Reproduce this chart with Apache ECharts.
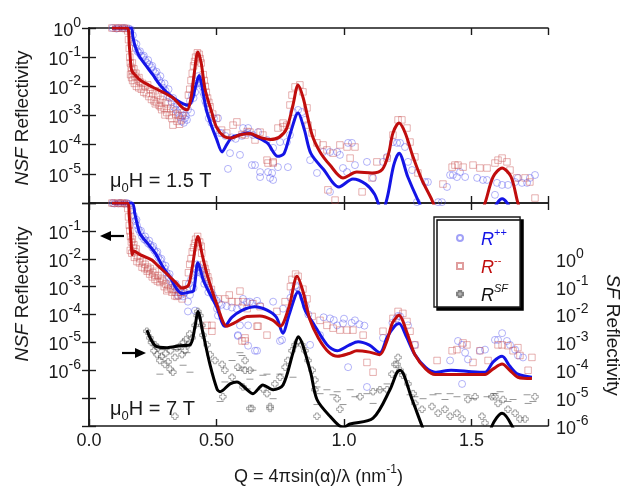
<!DOCTYPE html>
<html>
<head>
<meta charset="utf-8">
<script src="https://cdn.jsdelivr.net/npm/echarts@6.0.0/dist/echarts.min.js"></script>
<style>
  html, body { margin: 0; padding: 0; background: #fff; }
  #chart { width: 624px; height: 487px; }
</style>
</head>
<body>
<div id="chart"></div>
<script>
// Polarized neutron reflectivity, stored as [Q (nm^-1), log10 R]

// ---- 1.5 T panel ----
const rppLow = [
  [0.092,0],[0.1,0.01],[0.108,-0.02],[0.116,0],[0.124,0.01],[0.132,-0.01],[0.14,0],[0.148,0.01],[0.156,-0.02],[0.164,-0.05],
  [0.172,-0.25],[0.178,-0.5],[0.184,-0.7],[0.19,-0.8],[0.196,-0.85],[0.204,-0.95],[0.212,-1.0],[0.22,-1.1],[0.228,-1.2],[0.236,-1.25],
  [0.244,-1.35],[0.252,-1.45],[0.26,-1.55],[0.268,-1.7],[0.276,-1.8],[0.284,-1.9],[0.292,-2.05],[0.3,-2.15],[0.308,-2.3],[0.316,-2.4],
  [0.324,-2.55],[0.332,-2.7],[0.34,-2.8],[0.348,-2.9],[0.356,-3.05],[0.364,-3.2],[0.372,-3.25],[0.38,-3.0],[0.388,-2.8],[0.396,-2.5],
  [0.404,-2.3],[0.412,-2.0],[0.42,-1.8],[0.428,-1.65],[0.436,-1.75],[0.444,-2.0],[0.452,-2.3],[0.46,-2.6],[0.468,-2.8],[0.476,-3.0],
  [0.49,-3.1],[0.506,-3.09],[0.52,-3.6],[0.535,-3.7],[0.545,-4.83],[0.553,-4.29],[0.56,-3.75],[0.575,-3.8],[0.592,-4.35],[0.6,-3.7],
  [0.604,-3.43],[0.62,-3.6],[0.624,-3.43],[0.639,-4.7],[0.643,-3.67],[0.651,-4.7],[0.663,-3.57],[0.671,-4.94],[0.671,-5.11],[0.698,-3.84],
  [0.702,-4.94],[0.71,-5.14],[0.718,-4.97],[0.722,-4.11],[0.722,-5.21],[0.741,-4.77],[0.749,-3.91],[0.776,-3.91],[0.78,-4.77],[0.788,-3.67],
  [0.8,-2.88],[0.82,-2.81],[0.835,-2.88],[0.847,-3.15],[0.867,-4.53],[0.894,-4.97],[0.918,-4.25],[0.945,-4.25],[0.945,-5.62],[0.973,-4.25],
  [0.984,-4.35],[0.996,-4.8],[1.012,-4.94],[1.016,-3.94],[1.031,-3.94],[1.043,-4.7],[1.09,-4.59],[1.114,-5.14],[1.153,-4.59],[1.169,-4.42],
  [1.192,-3.91],[1.208,-3.94],[1.22,-3.94],[1.239,-4.08],[1.251,-4.59],[1.267,-4.87],[1.286,-5.97],[1.318,-5.28],[1.329,-5.28],[1.369,-5.97],
  [1.384,-5.97],[1.404,-5.45],[1.416,-5.04],[1.427,-5.04],[1.443,-5.11],[1.455,-4.94],[1.475,-5.11],[1.522,-5.14],[1.545,-5.21],[1.561,-5.21],
  [1.592,-5.72],[1.6,-5.31],[1.62,-5.38],[1.643,-5.38],[1.671,-5.28],[1.682,-5.14],[1.698,-5.31],[1.718,-5.31],[1.729,-5.14],[1.749,-5.04],
  [0.186,-0.55],[0.2,-0.8],[0.215,-0.95],[0.232,-1.1],[0.248,-1.3],[0.265,-1.5],[0.28,-1.65],[0.296,-1.9],[0.312,-2.1],[0.33,-2.4],
  [0.345,-2.6],[0.36,-2.8],[0.368,-3.0],[0.376,-3.1],[0.384,-3.15],[0.4,-2.9],[0.41,-2.4],[0.416,-2.2],[0.424,-1.9],[0.44,-1.9],
  [0.448,-2.2],[0.456,-2.5],[0.47,-3.1],[0.48,-3.25],[0.5,-3.5],[0.512,-3.6]
];
const rmmLow = [
  [0.09,0],[0.098,0.01],[0.106,-0.01],[0.114,0],[0.122,0.01],[0.13,-0.01],[0.138,0],[0.146,-0.02],[0.152,-0.1],
  [0.155,-0.4],[0.158,-0.7],[0.16,-1.0],[0.162,-1.2],[0.165,-1.35],[0.168,-1.45],[0.17,-1.2],[0.173,-1.55],[0.176,-1.4],[0.18,-1.65],
  [0.184,-1.55],[0.19,-1.75],[0.196,-1.7],[0.2,-1.85],[0.21,-1.9],[0.22,-2.0],[0.23,-1.95],[0.24,-2.1],[0.25,-2.25],[0.26,-2.15],
  [0.26,-2.6],[0.27,-2.3],[0.28,-2.45],[0.28,-2.7],[0.29,-2.35],[0.298,-2.98],[0.3,-2.55],[0.31,-2.6],[0.32,-2.75],[0.329,-3.33],
  [0.33,-2.85],[0.34,-2.95],[0.35,-3.0],[0.36,-3.15],[0.37,-2.9],[0.38,-2.7],[0.39,-2.3],[0.4,-1.8],[0.41,-1.3],[0.418,-1.0],
  [0.425,-0.85],[0.432,-0.9],[0.44,-1.2],[0.448,-1.6],[0.456,-2.0],[0.465,-2.4],[0.475,-2.7],[0.485,-2.95],[0.5,-3.1],[0.52,-3.5],
  [0.54,-3.6],[0.565,-3.33],[0.58,-3.22],[0.6,-3.65],[0.612,-3.67],[0.62,-3.55],[0.631,-3.57],[0.651,-3.84],[0.671,-3.57],[0.682,-3.67],
  [0.698,-4.53],[0.702,-4.63],[0.722,-4.59],[0.722,-4.63],[0.741,-3.43],[0.761,-3.39],[0.761,-3.26],[0.776,-3.33],[0.788,-2.64],[0.796,-2.3],
  [0.808,-2.02],[0.827,-1.95],[0.839,-2.19],[0.855,-2.74],[0.859,-3.33],[0.875,-3.6],[0.894,-3.94],[0.918,-4.01],[0.933,-4.18],[0.937,-5.55],
  [0.957,-4.29],[0.965,-5.9],[0.984,-4.01],[1.012,-4.08],[1.024,-4.46],[1.043,-4.08],[1.071,-5.62],[1.11,-5.14],[1.129,-4.59],[1.169,-4.46],
  [1.192,-3.67],[1.212,-3.15],[1.227,-3.15],[1.247,-3.43],[1.259,-3.91],[1.278,-4.42],[1.29,-4.97],[1.388,-5.35],[1.424,-4.77],[1.435,-4.7],
  [1.447,-4.7],[1.467,-4.77],[1.506,-4.7],[1.533,-4.8],[1.561,-4.8],[1.592,-4.63],[1.604,-4.53],[1.62,-4.46],[1.639,-4.59],[1.651,-4.87],
  [1.678,-5.14],[1.71,-5.14],[1.729,-5.28],[1.749,-5.83],
  [0.163,-1.6],[0.167,-1.7],[0.171,-1.8],[0.178,-1.9],[0.186,-2.0],[0.195,-2.05],[0.205,-2.1],[0.215,-2.2],[0.225,-2.25],[0.235,-2.35],
  [0.245,-2.45],[0.255,-2.5],[0.265,-2.55],[0.275,-2.65],[0.285,-2.8],[0.295,-2.75],[0.305,-2.9],[0.315,-3.0],[0.325,-3.1],[0.345,-3.2],
  [0.355,-3.3],[0.365,-3.0],[0.395,-2.1],[0.405,-1.55],[0.414,-1.15],[0.436,-1.05],[0.452,-1.8],[0.46,-2.2],[0.47,-2.55]
];
const fitPpLow = [
  [0.09,0],[0.165,0],[0.172,-0.3],[0.18,-0.6],[0.196,-0.95],[0.22,-1.25],[0.25,-1.6],[0.278,-1.95],[0.31,-2.25],[0.34,-2.45],
  [0.37,-2.6],[0.39,-2.65],[0.405,-2.45],[0.418,-2.0],[0.432,-1.63],[0.445,-2.1],[0.46,-2.8],[0.478,-3.3],[0.5,-3.8],[0.522,-4.25],
  [0.54,-4.0],[0.56,-3.75],[0.59,-3.67],[0.625,-3.6],[0.66,-3.75],[0.7,-3.95],[0.74,-4.4],[0.765,-4.3],[0.79,-3.6],[0.82,-2.91],
  [0.845,-3.5],[0.87,-4.3],[0.92,-4.85],[0.98,-5.45],[1.035,-5.18],[1.085,-5.35],[1.12,-5.7],[1.15,-6.3],[1.17,-5.8],[1.195,-4.7],
  [1.216,-4.29],[1.25,-5.1],[1.29,-5.9],[1.33,-6.6],[1.45,-7.5],[1.56,-6.6],[1.62,-5.85],[1.68,-6.6],[1.75,-7.5]
];
const fitMmLow = [
  [0.09,0],[0.15,0],[0.158,-0.6],[0.165,-1.35],[0.17,-1.5],[0.18,-1.6],[0.2,-1.78],[0.25,-2.03],[0.29,-2.2],[0.33,-2.4],
  [0.365,-2.72],[0.385,-2.8],[0.4,-2.4],[0.412,-1.6],[0.427,-0.82],[0.44,-1.2],[0.455,-2.1],[0.48,-2.85],[0.5,-3.4],[0.53,-3.72],
  [0.56,-3.77],[0.59,-3.67],[0.63,-3.62],[0.67,-3.75],[0.71,-3.82],[0.745,-3.75],[0.775,-3.45],[0.8,-2.64],[0.82,-1.95],[0.84,-2.4],
  [0.875,-3.67],[0.906,-4.25],[0.945,-4.7],[0.996,-5.14],[1.05,-4.94],[1.11,-4.97],[1.15,-4.85],[1.175,-4.3],[1.192,-3.6],[1.216,-3.26],
  [1.24,-3.6],[1.27,-4.4],[1.305,-5.2],[1.345,-5.9],[1.4,-7.0],[1.5,-7.2],[1.553,-6.0],[1.585,-5.1],[1.62,-4.8],[1.655,-5.1],
  [1.682,-6.0],[1.72,-7.0]
];

// ---- 7 T panel ----
const rppHigh = [
  [0.092,0],[0.1,-0.02],[0.108,0.01],[0.116,-0.01],[0.124,0],[0.132,0.01],[0.14,-0.02],[0.148,0],[0.156,-0.03],[0.164,-0.08],
  [0.17,-0.25],[0.176,-0.45],[0.182,-0.65],[0.188,-0.8],[0.194,-0.95],[0.2,-1.05],[0.208,-1.2],[0.216,-1.3],[0.224,-1.35],[0.232,-1.45],
  [0.24,-1.5],[0.248,-1.6],[0.256,-1.7],[0.264,-1.8],[0.272,-1.95],[0.28,-2.05],[0.288,-2.2],[0.296,-2.35],[0.304,-2.5],[0.312,-2.65],
  [0.32,-2.8],[0.328,-2.9],[0.336,-3.0],[0.344,-3.1],[0.349,-3.33],[0.352,-3.2],[0.36,-3.3],[0.368,-3.35],[0.376,-3.2],[0.384,-3.1],
  [0.388,-3.54],[0.388,-3.89],[0.392,-2.9],[0.4,-2.75],[0.408,-2.6],[0.416,-2.35],[0.416,-3.86],[0.424,-2.2],[0.432,-2.3],[0.44,-2.45],
  [0.448,-2.6],[0.456,-2.75],[0.464,-2.9],[0.472,-3.05],[0.48,-3.2],[0.49,-3.4],[0.5,-3.5],[0.502,-3.79],[0.506,-4.04],[0.52,-3.65],
  [0.54,-3.7],[0.56,-3.75],[0.58,-3.8],[0.584,-4.74],[0.584,-4.77],[0.592,-4.39],[0.6,-3.7],[0.604,-3.44],[0.62,-3.55],[0.624,-4.39],
  [0.624,-5.12],[0.631,-3.54],[0.64,-3.6],[0.651,-5.3],[0.659,-3.51],[0.659,-5.3],[0.671,-3.68],[0.722,-3.54],[0.749,-4.95],[0.757,-4.91],
  [0.761,-3.79],[0.79,-3.4],[0.8,-3.2],[0.81,-2.95],[0.816,-3.02],[0.827,-3.16],[0.84,-3.4],[0.85,-3.7],[0.86,-4.0],[0.867,-5.09],
  [0.906,-4.74],[0.92,-4.1],[0.945,-4.14],[0.96,-4.2],[0.973,-4.39],[0.996,-4.32],[1.0,-4.15],[1.016,-5.89],[1.03,-4.3],[1.043,-4.21],
  [1.06,-4.35],[1.08,-4.4],[1.09,-6.6],[1.153,-4.84],[1.19,-4.3],[1.205,-4.15],[1.212,-4.05],[1.22,-4.07],[1.251,-4.39],[1.278,-5.09],
  [1.416,-5.65],[1.447,-4.95],[1.463,-5.09],[1.463,-6.49],[1.475,-5.37],[1.486,-5.61],[1.533,-5.3],[1.553,-5.26],[1.592,-4.91],[1.604,-4.91],
  [1.62,-4.67],[1.639,-4.95],[1.651,-5.09],[1.671,-5.26],[1.682,-5.47],[1.702,-5.54],
  [0.186,-0.6],[0.204,-1.0],[0.22,-1.2],[0.236,-1.35],[0.252,-1.55],[0.268,-1.75],[0.284,-2.0],[0.3,-2.25],[0.316,-2.55],[0.34,-2.9],
  [0.356,-3.1],[0.372,-3.25],[0.396,-3.3],[0.41,-3.05],[0.42,-2.5],[0.436,-2.5],[0.452,-2.9],[0.468,-3.2],[0.485,-3.3],[0.51,-3.6]
];
const rmmHigh = [
  [0.09,0],[0.098,-0.01],[0.106,0.01],[0.114,0],[0.122,-0.02],[0.13,0],[0.138,-0.01],[0.146,-0.03],
  [0.152,-0.2],[0.155,-0.5],[0.158,-0.8],[0.16,-1.0],[0.163,-1.2],[0.166,-1.4],[0.17,-1.3],[0.173,-1.6],[0.176,-1.5],[0.18,-1.75],
  [0.185,-1.65],[0.19,-1.9],[0.2,-2.0],[0.21,-2.1],[0.22,-2.2],[0.23,-2.3],[0.231,-2.39],[0.24,-2.35],[0.25,-2.5],[0.259,-2.74],
  [0.26,-2.45],[0.27,-2.6],[0.28,-2.7],[0.286,-2.74],[0.29,-2.8],[0.3,-2.9],[0.31,-3.09],[0.31,-2.95],[0.32,-3.05],[0.33,-3.1],
  [0.337,-3.33],[0.34,-3.2],[0.35,-3.3],[0.36,-3.2],[0.365,-3.44],[0.37,-3.1],[0.38,-2.9],[0.39,-2.5],[0.4,-2.0],[0.41,-1.6],
  [0.418,-1.3],[0.426,-1.2],[0.434,-1.4],[0.442,-1.8],[0.45,-2.2],[0.46,-2.5],[0.463,-4.39],[0.47,-2.8],[0.48,-3.1],[0.482,-4.39],
  [0.482,-4.6],[0.506,-3.44],[0.533,-3.44],[0.55,-3.3],[0.561,-3.54],[0.584,-3.54],[0.592,-3.16],[0.6,-4.95],[0.604,-3.54],[0.612,-4.84],
  [0.612,-4.95],[0.62,-3.79],[0.643,-3.61],[0.659,-4.42],[0.663,-4.42],[0.671,-3.72],[0.698,-4.74],[0.737,-3.89],[0.769,-3.54],[0.79,-3.0],
  [0.796,-2.74],[0.81,-2.55],[0.82,-2.63],[0.839,-3.09],[0.855,-3.44],[0.875,-4.07],[0.906,-4.21],[0.933,-4.39],[0.957,-4.49],[0.984,-4.56],
  [1.012,-4.56],[1.035,-4.56],[1.075,-4.74],[1.09,-5.72],[1.114,-6.07],[1.153,-4.6],[1.192,-4.14],[1.212,-3.89],[1.231,-3.96],[1.247,-4.25],
  [1.259,-4.6],[1.278,-5.09],[1.365,-5.65],[1.424,-5.3],[1.443,-5.26],[1.467,-5.02],[1.482,-5.09],[1.506,-5.72],[1.533,-5.3],[1.565,-5.65],
  [1.604,-5.09],[1.62,-5.09],[1.643,-5.12],[1.663,-5.3],[1.682,-5.19],[1.69,-5.47],[1.722,-6.0],[1.737,-5.54],
  [0.162,-1.7],[0.168,-1.8],[0.178,-1.95],[0.188,-2.1],[0.198,-2.15],[0.208,-2.3],[0.218,-2.35],[0.228,-2.45],[0.238,-2.55],[0.248,-2.65],
  [0.258,-2.6],[0.268,-2.8],[0.278,-2.85],[0.295,-3.0],[0.305,-3.15],[0.325,-3.2],[0.345,-3.35],[0.395,-2.2],[0.405,-1.75],[0.414,-1.45],
  [0.44,-1.55],[0.455,-2.35],[0.466,-2.65]
];
const rsfHigh = [
  [0.227,-2.6],[0.239,-2.84],[0.245,-3.0],[0.255,-3.3],[0.259,-3.09],[0.267,-3.44],[0.27,-3.2],[0.278,-3.65],[0.285,-3.5],[0.298,-3.79],
  [0.3,-3.4],[0.31,-3.7],[0.318,-3.96],[0.32,-3.3],[0.329,-4.07],[0.337,-3.54],[0.337,-5.65],[0.345,-3.2],[0.355,-3.15],[0.365,-3.44],
  [0.37,-3.0],[0.376,-3.3],[0.38,-2.9],[0.388,-3.09],[0.395,-2.7],[0.404,-2.84],[0.416,-2.39],[0.424,-2.04],[0.427,-1.89],[0.435,-2.04],
  [0.443,-2.39],[0.447,-2.74],[0.463,-3.09],[0.475,-3.44],[0.494,-3.65],[0.522,-3.79],[0.525,-4.95],[0.533,-4.0],[0.561,-4.25],[0.584,-3.89],
  [0.604,-4.6],[0.612,-4.0],[0.612,-3.65],[0.631,-4.0],[0.631,-5.37],[0.639,-5.37],[0.682,-4.67],[0.698,-4.84],[0.71,-5.3],[0.71,-5.37],
  [0.729,-4.49],[0.749,-4.25],[0.769,-3.89],[0.78,-3.65],[0.796,-3.3],[0.808,-3.09],[0.82,-2.95],[0.835,-3.09],[0.847,-3.3],[0.859,-3.65],
  [0.875,-4.0],[0.886,-4.35],[0.886,-4.7],[0.894,-5.65],[0.973,-5.02],[0.984,-5.4],[1.063,-4.95],[1.114,-4.77],[1.141,-4.7],[1.169,-4.7],
  [1.188,-4.14],[1.2,-3.79],[1.208,-3.79],[1.212,-3.54],[1.22,-4.0],[1.231,-4.18],[1.251,-4.49],[1.271,-4.84],[1.278,-5.19],[1.306,-5.4],
  [1.345,-5.3],[1.369,-5.54],[1.396,-5.4],[1.416,-5.65],[1.443,-5.54],[1.463,-5.75],[1.486,-5.05],[1.514,-4.95],[1.541,-5.65],[1.553,-5.89],
  [1.58,-4.95],[1.592,-4.95],[1.604,-5.19],[1.624,-5.05],[1.643,-5.4],[1.671,-5.54],[1.69,-5.75],[1.71,-5.75],[1.749,-4.95]
];
const rsfErrHigh = [
  [0.278,-4.14],[0.29,-3.26],[0.345,-3.26],[0.369,-3.82],[0.384,-3.37],[0.396,-4.07],[0.514,-5.12],[0.533,-4.42],[0.561,-3.65],[0.592,-3.37],
  [0.592,-4.0],[0.6,-3.47],[0.6,-3.89],[0.62,-4.67],[0.631,-4.32],[0.643,-4.0],[0.682,-4.18],[0.698,-4.14],[0.722,-5.02],[0.749,-4.14],
  [0.8,-4.25],[0.894,-4.6],[0.894,-5.23],[0.906,-4.84],[0.933,-4.7],[0.957,-4.88],[0.973,-4.77],[0.996,-5.23],[1.024,-4.7],[1.043,-4.95],
  [1.09,-4.84],[1.114,-5.19],[1.141,-4.7],[1.169,-4.49],[1.259,-4.88],[1.278,-4.95],[1.31,-5.02],[1.349,-4.88],[1.369,-4.84],[1.396,-5.05],
  [1.416,-4.84],[1.443,-4.95],[1.482,-4.88],[1.506,-5.02],[1.561,-4.95],[1.592,-4.84],[1.612,-4.77],[1.643,-5.12],[1.663,-5.05],[1.718,-4.88],
  [1.722,-5.19],[1.741,-5.12]
];
const fitPpHigh = [
  [0.09,0],[0.168,0],[0.18,-0.4],[0.2,-1.1],[0.23,-1.45],[0.26,-1.8],[0.29,-2.3],[0.32,-2.7],[0.345,-3.1],[0.365,-3.25],
  [0.39,-3.2],[0.41,-3.15],[0.427,-2.14],[0.45,-2.8],[0.5,-3.72],[0.533,-4.42],[0.56,-4.1],[0.6,-3.85],[0.65,-3.72],[0.7,-3.85],
  [0.735,-4.1],[0.76,-4.67],[0.785,-4.0],[0.82,-3.19],[0.85,-3.9],[0.875,-4.25],[0.933,-5.08],[0.973,-5.3],[1.02,-5.1],[1.055,-4.98],
  [1.1,-5.1],[1.141,-5.37],[1.17,-4.8],[1.2,-4.4],[1.216,-4.32],[1.245,-4.8],[1.278,-5.44],[1.32,-5.9],[1.357,-6.07],[1.42,-6.0],
  [1.5,-6.05],[1.553,-6.07],[1.585,-5.7],[1.62,-5.5],[1.65,-5.85],[1.682,-6.14],[1.737,-6.25]
];
const fitMmHigh = [
  [0.09,0],[0.15,0],[0.158,-0.5],[0.166,-1.5],[0.169,-1.86],[0.175,-1.72],[0.2,-1.85],[0.247,-2.05],[0.27,-2.25],[0.306,-2.55],
  [0.34,-2.85],[0.365,-3.05],[0.39,-2.95],[0.405,-2.3],[0.427,-1.2],[0.445,-1.9],[0.463,-2.56],[0.5,-3.6],[0.541,-4.42],[0.57,-4.3],
  [0.62,-4.07],[0.67,-4.05],[0.72,-4.2],[0.75,-4.42],[0.785,-3.7],[0.816,-2.63],[0.84,-3.2],[0.867,-4.2],[0.9,-4.85],[0.94,-5.35],
  [0.975,-5.5],[1.02,-5.4],[1.05,-5.3],[1.1,-5.35],[1.14,-5.44],[1.17,-4.9],[1.19,-4.3],[1.216,-4.03],[1.245,-4.6],[1.278,-5.44],
  [1.32,-5.95],[1.357,-6.15],[1.42,-6.15],[1.49,-6.15],[1.553,-6.15],[1.585,-5.95],[1.62,-5.78],[1.65,-6.0],[1.682,-6.25],[1.737,-6.3]
];
const fitSfHigh = [
  [0.227,-2.56],[0.26,-3.12],[0.306,-3.19],[0.357,-3.12],[0.396,-3.09],[0.416,-2.42],[0.427,-1.89],[0.447,-2.67],[0.475,-3.82],[0.502,-4.67],
  [0.514,-4.77],[0.553,-4.49],[0.58,-4.42],[0.62,-4.7],[0.643,-4.84],[0.682,-4.53],[0.722,-4.7],[0.761,-4.53],[0.8,-3.37],[0.82,-2.8],
  [0.867,-4.0],[0.894,-5.05],[0.945,-5.65],[0.996,-6.05],[1.024,-5.93],[1.114,-5.72],[1.18,-4.7],[1.208,-4.07],[1.22,-4.0],[1.267,-5.05],
  [1.306,-6.0],[1.35,-7.0],[1.55,-7.0],[1.58,-6.0],[1.62,-5.54],[1.659,-6.0],[1.7,-7.0]
];

// axis tick labels
const qTickLabels = { '0': '0.0', '0.5': '0.50', '1': '1.0', '1.5': '1.5' };
const nsfLowExps = [0, -1, -2, -3, -4, -5];
const nsfHighExps = [-1, -2, -3, -4, -5, -6];
const sfHighExps = [0, -1, -2, -3, -4, -5, -6];

const FONT = '"Liberation Sans", Arial, Helvetica, sans-serif';
const INK = '#1a1a1a';
const BLUE = '#1414e6';
const RED = '#c00d0d';

const toR = pts => pts.map(([q, e]) => [q, Math.pow(10, e)]);

const expRich = {
  t: { fontFamily: FONT, fontSize: 18, color: INK, lineHeight: 24, verticalAlign: 'bottom' },
  s: { fontFamily: FONT, fontSize: 14, color: INK, lineHeight: 24, verticalAlign: 'top' }
};
const expFormatter = shown => v => {
  const n = Math.round(Math.log10(v));
  return shown.includes(n) ? '{t|10}{s|' + n + '}' : '';
};

const frameLine = { show: true, lineStyle: { color: INK, width: 1.6 } };
const innerTick = { show: true, inside: true, length: 7, lineStyle: { color: INK, width: 1.4 } };

function qAxis(gridIndex, position, labelled) {
  return {
    type: 'value', gridIndex, position, min: 0, max: 1.8, interval: 0.5,
    axisLine: Object.assign({ onZero: false }, frameLine), axisTick: innerTick,
    splitLine: { show: false },
    axisLabel: labelled ? {
      show: true, margin: 6, fontFamily: FONT, fontSize: 18, color: INK,
      formatter: v => qTickLabels[String(v)] || ''
    } : { show: false }
  };
}
function logAxis(gridIndex, position, min, max, shown) {
  return {
    type: 'log', logBase: 10, gridIndex, position, min, max, interval: 1,
    axisLine: frameLine, axisTick: innerTick, minorTick: { show: false },
    splitLine: { show: false },
    axisLabel: shown ? { show: true, margin: 8, formatter: expFormatter(shown), rich: expRich } : { show: false }
  };
}

const circleStyle = { color: 'rgba(0,0,0,0)', borderColor: 'rgba(85,85,240,0.7)', borderWidth: 0.8 };
const squareStyle = { color: 'rgba(0,0,0,0)', borderColor: 'rgba(200,80,80,0.7)', borderWidth: 0.8 };
const crossStyle = { color: 'rgba(0,0,0,0)', borderColor: 'rgba(60,60,60,0.8)', borderWidth: 0.7 };
const CROSS = 'path://M3,0L7,0L7,3L10,3L10,7L7,7L7,10L3,10L3,7L0,7L0,3L3,3Z';

function dots(name, data, xi, yi, symbol, size, style) {
  return { type: 'scatter', name, data: toR(data), xAxisIndex: xi, yAxisIndex: yi,
           symbol, symbolSize: size, itemStyle: style, z: 2, silent: true, clip: true };
}
function fit(name, data, xi, yi, color) {
  return { type: 'line', name, data: toR(data), xAxisIndex: xi, yAxisIndex: yi,
           showSymbol: false, smooth: 0.3, clip: true, z: 4, silent: true,
           lineStyle: { color, width: 3 } };
}

const chart = echarts.init(document.getElementById('chart'), null, { renderer: 'canvas' });

const legendRich = {
  bi: { fontFamily: FONT, fontStyle: 'italic', fontSize: 18, color: BLUE, lineHeight: 22, verticalAlign: 'bottom' },
  bs: { fontFamily: FONT, fontSize: 11, color: BLUE, lineHeight: 22, verticalAlign: 'top' },
  ri: { fontFamily: FONT, fontStyle: 'italic', fontSize: 18, color: RED, lineHeight: 22, verticalAlign: 'bottom' },
  rs: { fontFamily: FONT, fontSize: 11, color: RED, lineHeight: 22, verticalAlign: 'top' },
  ki: { fontFamily: FONT, fontStyle: 'italic', fontSize: 18, color: '#111', lineHeight: 22, verticalAlign: 'bottom' },
  ks: { fontFamily: FONT, fontStyle: 'italic', fontSize: 11, color: '#111', lineHeight: 22, verticalAlign: 'top' }
};

chart.setOption({
  animation: false,
  backgroundColor: '#fff',
  grid: [
    { left: 89, right: 76, top: 28, height: 175 },
    { left: 89, right: 76, top: 203, height: 227 }
  ],
  xAxis: [
    qAxis(0, 'bottom', false),
    qAxis(0, 'top', false),
    Object.assign(qAxis(1, 'bottom', true), {
      name: '{a|Q = 4πsin(α)/λ (nm}{s|-1}{a|)}', nameLocation: 'middle', nameGap: 38,
      nameTextStyle: { rich: {
        a: { fontFamily: FONT, fontSize: 18, color: INK, lineHeight: 22, verticalAlign: 'bottom' },
        s: { fontFamily: FONT, fontSize: 12, color: INK, lineHeight: 22, verticalAlign: 'top' }
      } }
    }),
    qAxis(1, 'top', false)
  ],
  yAxis: [
    logAxis(0, 'left', 1e-6, 1, nsfLowExps),
    logAxis(0, 'right', 1e-6, 1, null),
    logAxis(1, 'left', 1e-8, 1, nsfHighExps),
    logAxis(1, 'right', 1e-6, 1e2, sfHighExps)
  ],
  legend: {
    left: 434, top: 217, orient: 'vertical',
    data: [
      { name: 'R++', icon: 'circle' },
      { name: 'R--', icon: 'rect' },
      { name: 'RSF', icon: CROSS }
    ],
    itemWidth: 6, itemHeight: 6, itemGap: 6,
    padding: [10, 12, 2, 22],
    backgroundColor: '#fff', borderColor: INK, borderWidth: 1.4,
    shadowColor: 'rgba(0,0,0,1)', shadowBlur: 0, shadowOffsetX: 3, shadowOffsetY: 3,
    formatter: n => ({ 'R++': '{bi|R}{bs|++}', 'R--': '{ri|R}{rs|--}', 'RSF': '{ki|R}{ks|SF}' })[n],
    textStyle: { padding: [0, 0, 0, 13], rich: legendRich }
  },
  series: [
    dots('R++', rppLow, 0, 0, 'circle', 7, circleStyle),
    dots('R--', rmmLow, 0, 0, 'rect', 6.5, squareStyle),
    fit('fit R++ 1.5T', fitPpLow, 0, 0, BLUE),
    fit('fit R-- 1.5T', fitMmLow, 0, 0, RED),

    dots('R++', rppHigh, 2, 2, 'circle', 7, circleStyle),
    dots('R--', rmmHigh, 2, 2, 'rect', 6.5, squareStyle),
    dots('RSF', rsfHigh, 2, 3, CROSS, 6.5, crossStyle),
    { type: 'scatter', name: 'RSF bars', data: toR(rsfErrHigh), xAxisIndex: 2, yAxisIndex: 3,
      symbol: 'rect', symbolSize: [7, 1], itemStyle: { color: 'rgba(90,90,90,0.8)' }, z: 1, silent: true },
    fit('fit R++ 7T', fitPpHigh, 2, 2, BLUE),
    fit('fit R-- 7T', fitMmHigh, 2, 2, RED),
    fit('fit RSF 7T', fitSfHigh, 2, 3, '#000')
  ],
  graphic: [
    { type: 'text', left: 110, top: 171, z: 10, style: {
        text: '{m|μ}{b|0}{m|H = 1.5 T}', rich: {
          m: { fontFamily: FONT, fontSize: 20, fill: INK, lineHeight: 24, verticalAlign: 'top' },
          b: { fontFamily: FONT, fontSize: 13, fill: INK, lineHeight: 24, verticalAlign: 'bottom' } } } },
    { type: 'text', left: 110, top: 399, z: 10, style: {
        text: '{m|μ}{b|0}{m|H = 7 T}', rich: {
          m: { fontFamily: FONT, fontSize: 20, fill: INK, lineHeight: 24, verticalAlign: 'top' },
          b: { fontFamily: FONT, fontSize: 13, fill: INK, lineHeight: 24, verticalAlign: 'bottom' } } } },
    { type: 'text', x: 23, y: 118, rotation: Math.PI / 2, z: 10, style: {
        text: '{i|NSF}{n| Reflectivity}', align: 'center', verticalAlign: 'middle', rich: {
          i: { fontFamily: FONT, fontStyle: 'italic', fontSize: 19, fill: INK },
          n: { fontFamily: FONT, fontSize: 19, fill: INK } } } },
    { type: 'text', x: 23, y: 294, rotation: Math.PI / 2, z: 10, style: {
        text: '{i|NSF}{n| Reflectivity}', align: 'center', verticalAlign: 'middle', rich: {
          i: { fontFamily: FONT, fontStyle: 'italic', fontSize: 19, fill: INK },
          n: { fontFamily: FONT, fontSize: 19, fill: INK } } } },
    { type: 'text', x: 612, y: 335, rotation: -Math.PI / 2, z: 10, style: {
        text: '{i|SF}{n| Reflectivity}', align: 'center', verticalAlign: 'middle', rich: {
          i: { fontFamily: FONT, fontStyle: 'italic', fontSize: 19, fill: INK },
          n: { fontFamily: FONT, fontSize: 19, fill: INK } } } },
    // arrows pointing at the axis each curve family belongs to
    { type: 'group', z: 10, children: [
      { type: 'line', shape: { x1: 108, y1: 236, x2: 124, y2: 236 }, style: { stroke: '#000', lineWidth: 2.2 } },
      { type: 'polygon', shape: { points: [[100, 236], [111, 231], [111, 241]] }, style: { fill: '#000' } },
      { type: 'line', shape: { x1: 122, y1: 353, x2: 138, y2: 353 }, style: { stroke: '#000', lineWidth: 2.2 } },
      { type: 'polygon', shape: { points: [[146, 353], [135, 348], [135, 358]] }, style: { fill: '#000' } }
    ] }
  ]
});
</script>
</body>
</html>
